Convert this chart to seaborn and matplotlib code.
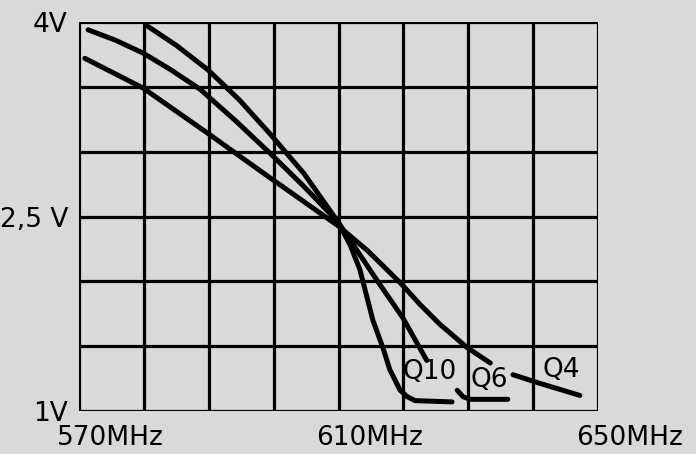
import pandas as pd
import matplotlib.pyplot as plt
import seaborn as sns
from matplotlib.transforms import ScaledTranslation

paper = '#d9d9d9'

# frequency (MHz) / voltage (V), curves broken where the labels sit
q10_f = [580.5, 585.0, 589.9, 594.7, 599.4, 604.7, 609.9, 611.8, 613.3, 615.3, 616.9, 617.9,
         619.5, 620.6, 621.8, 627.5]
q10_v = [3.97, 3.82, 3.63, 3.40, 3.14, 2.83, 2.46, 2.28, 2.09, 1.70, 1.48, 1.32,
         1.16, 1.11, 1.08, 1.07]

q6a_f = [571.4, 575.6, 579.9, 584.2, 588.7, 594.1, 599.4, 604.7, 609.9, 615.9, 619.9, 623.6]
q6a_v = [3.94, 3.86, 3.76, 3.63, 3.48, 3.24, 2.99, 2.73, 2.46, 2.01, 1.72, 1.39]
q6b_f = [628.3, 629.2, 630.3, 636.1]
q6b_v = [1.16, 1.11, 1.09, 1.09]

q4a_f = [570.9, 579.9, 589.9, 599.4, 609.9, 614.4, 619.5, 622.6, 625.6, 629.8, 633.4]
q4a_v = [3.72, 3.49, 3.14, 2.80, 2.43, 2.24, 1.99, 1.82, 1.67, 1.49, 1.37]
q4b_f = [636.9, 640.6, 647.2]
q4b_v = [1.28, 1.22, 1.12]

labels = ['Q10', 'Q6', 'Q4']
label_f = [624.1, 633.2, 644.3]
label_v = [1.30, 1.24, 1.32]

x_ticks = [570, 610, 650]
x_ticklabels = ['570MHz', '610MHz', '650MHz']
y_ticks = [1, 2.5, 4]
y_ticklabels = ['1V', '2,5 V', '4V']

segments = {
    'q10': (q10_f, q10_v),
    'q6a': (q6a_f, q6a_v),
    'q6b': (q6b_f, q6b_v),
    'q4a': (q4a_f, q4a_v),
    'q4b': (q4b_f, q4b_v),
}
df = pd.concat([pd.DataFrame({'f': f, 'v': v, 'seg': name})
                for name, (f, v) in segments.items()], ignore_index=True)

sns.set_style('white')
plt.rcParams['font.family'] = ['DejaVu Sans Condensed', 'DejaVu Sans']
plt.rcParams['text.color'] = 'black'
plt.rcParams['xtick.color'] = 'black'
plt.rcParams['ytick.color'] = 'black'

fig = plt.figure(figsize=(6.96, 4.54), dpi=100, facecolor=paper)
ax = fig.add_axes([79 / 696, 1 - 411 / 454, 519 / 696, 389 / 454])
ax.set_facecolor(paper)

# grid first, curves on top
for f in range(570, 651, 10):
    ax.axvline(f, color='black', lw=2.3, zorder=1)
for v in [1, 1.5, 2, 2.5, 3, 3.5, 4]:
    ax.axhline(v, color='black', lw=2.3, zorder=1)

sns.lineplot(data=df, x='f', y='v', units='seg', estimator=None, sort=False,
             color='black', lw=3.6, ax=ax, zorder=3, solid_capstyle='round',
             solid_joinstyle='round')

for lab, f, v in zip(labels, label_f, label_v):
    ax.text(f, v, lab, fontsize=19, ha='center', va='center', zorder=4)

ax.set_xlim(570, 650)
ax.set_ylim(1, 4)
for s in ax.spines.values():
    s.set_visible(False)

ax.set_xticks(x_ticks)
ax.set_xticklabels(x_ticklabels, fontsize=19)
ax.set_yticks(y_ticks)
ax.set_yticklabels(y_ticklabels, fontsize=19)
ax.tick_params(axis='x', length=0, pad=10)
ax.tick_params(axis='y', length=0, pad=8)
shift = ScaledTranslation(-22 / 100, 0, fig.dpi_scale_trans)
for t in ax.get_xticklabels():
    t.set_horizontalalignment('left')
    t.set_transform(t.get_transform() + shift)
ax.set_xlabel('')
ax.set_ylabel('')

fig.savefig('out.png', dpi=100, facecolor=paper)
